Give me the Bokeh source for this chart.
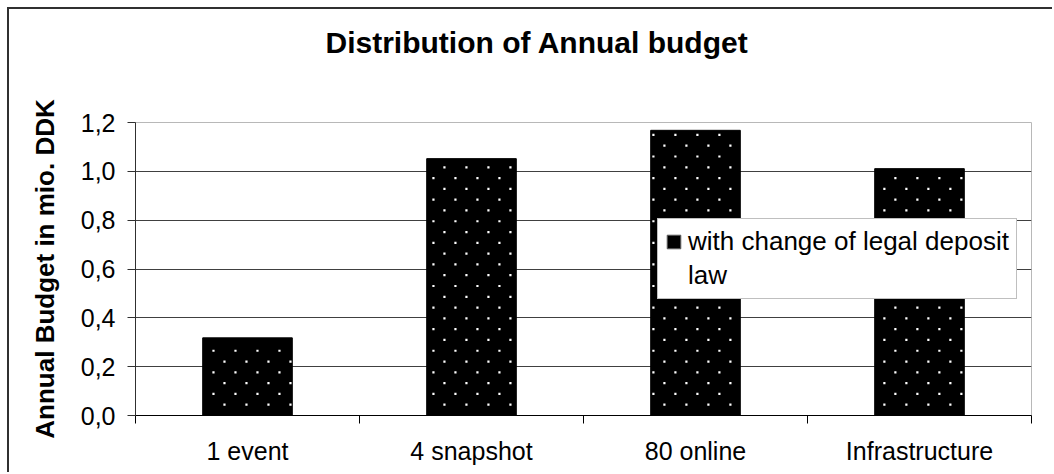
import numpy as np
from bokeh.plotting import figure
from bokeh.models import (ColumnDataSource, FixedTicker, Title, Legend, LegendItem, Range1d)
from bokeh.embed import file_html
from bokeh.resources import INLINE

# ---- data ----
categories = ["1 event", "4 snapshot", "80 online", "Infrastructure"]
budget = [0.318, 1.052, 1.168, 1.011]
y_ticks = [0.0, 0.2, 0.4, 0.6, 0.8, 1.0, 1.2]
y_tick_labels = ["0,0", "0,2", "0,4", "0,6", "0,8", "1,0", "1,2"]
series_name = "with change of legal deposit"
series_name_2 = "law"
title_text = "Distribution of Annual budget"
y_title = "Annual Budget in mio. DDK"

FONT = "Liberation Sans"
BAR_W = 0.4

xs = [i + 0.5 for i in range(len(categories))]
src = ColumnDataSource(dict(x=xs, top=budget, cat=categories))

# dotted fill pattern: staggered lattice clipped to each bar (style decoration)
PAT_DX, PAT_DY, PAT_X0 = 0.0982, 0.0442, 0.299
dot_x, dot_y = [], []
for cx, v in zip(xs, budget):
    k = 1
    while k * PAT_DY < v - 0.01:
        off = PAT_X0 + (PAT_DX / 2 if k % 2 == 0 else 0.0)
        lo, hi = cx - BAR_W / 2 + 0.01, cx + BAR_W / 2 - 0.005
        n0 = int(np.ceil((lo - off) / PAT_DX))
        n1 = int(np.floor((hi - off) / PAT_DX))
        for n in range(n0, n1 + 1):
            dot_x.append(off + n * PAT_DX)
            dot_y.append(k * PAT_DY)
        k += 1

p = figure(width=1045, height=465, output_backend="svg", toolbar_location=None,
           x_range=Range1d(0, len(categories)), y_range=Range1d(0, 1.2),
           min_border_left=126, min_border_right=23, min_border_top=113,
           min_border_bottom=59, title=None)
p.styles = {"margin-left": "7px", "margin-top": "7px",
            "border-left": "2px solid #303030", "border-top": "2px solid #303030"}

p.background_fill_color = "white"
p.border_fill_color = "white"
p.outline_line_color = "#b8b8b8"
p.outline_line_width = 1

bars = p.vbar(x="x", top="top", width=BAR_W, bottom=0, source=src,
              fill_color="black", line_color="black")
p.scatter(x=dot_x, y=dot_y, marker="square", size=2.2,
          fill_color="white", line_color=None)

# spacer (nearest the frame) + title above it
spacer = Title(text=" ", text_font_size="1px", standoff=60, text_color="white")
p.add_layout(spacer, "above")
title = Title(text=title_text, align="left", offset=190, standoff=0, vertical_align="middle",
              text_font=FONT, text_font_size="30px", text_font_style="bold", text_color="black")
p.add_layout(title, "above")

# x axis: ticks at category boundaries (minor), labels at centers
xa = p.xaxis[0]
xa.ticker = FixedTicker(ticks=xs, minor_ticks=list(range(len(categories) + 1)))
xa.major_label_overrides = {x: c for x, c in zip(xs, categories)}
xa.major_tick_out = 0
xa.major_tick_in = 0
xa.minor_tick_out = 8
xa.minor_tick_in = 0
xa.minor_tick_line_color = "black"
xa.axis_line_color = "black"
xa.major_label_standoff = 13
xa.major_label_text_font = FONT
xa.major_label_text_font_size = "25px"
xa.major_label_text_color = "black"

# y axis
ya = p.yaxis[0]
ya.ticker = FixedTicker(ticks=y_ticks, minor_ticks=[])
ya.major_label_overrides = {v: s for v, s in zip(y_ticks, y_tick_labels)}
ya.major_tick_out = 8
ya.major_tick_in = 0
ya.major_tick_line_color = "#303030"
ya.axis_line_color = "#303030"
ya.major_label_standoff = 12
ya.major_label_text_font = FONT
ya.major_label_text_font_size = "25px"
ya.major_label_text_color = "black"
ya.axis_label = y_title
ya.axis_label_text_font = FONT
ya.axis_label_text_font_size = "26px"
ya.axis_label_text_font_style = "bold"
ya.axis_label_text_color = "black"
ya.axis_label_standoff = 18

p.xgrid.visible = False
p.ygrid.grid_line_color = "#404040"
p.ygrid.grid_line_width = 1

# legend
dummy = p.quad(left=[-10], right=[-9], bottom=[-10], top=[-9],
               fill_color="black", line_color="#606060")
dummy2 = p.quad(left=[-10], right=[-9], bottom=[-10], top=[-9],
                fill_alpha=0, line_alpha=0)
legend = Legend(items=[LegendItem(label=series_name, renderers=[dummy]),
                       LegendItem(label=series_name_2, renderers=[dummy2])],
                location=(522, 116), orientation="vertical",
                label_text_font=FONT, label_text_font_size="26px", label_text_color="black",
                glyph_width=17, glyph_height=17, label_standoff=6,
                padding=7, spacing=3, margin=0,
                border_line_color="#808080", border_line_width=1,
                background_fill_color="white", background_fill_alpha=1)
p.add_layout(legend, "center")

open("out.html", "w").write(file_html(p, INLINE))
